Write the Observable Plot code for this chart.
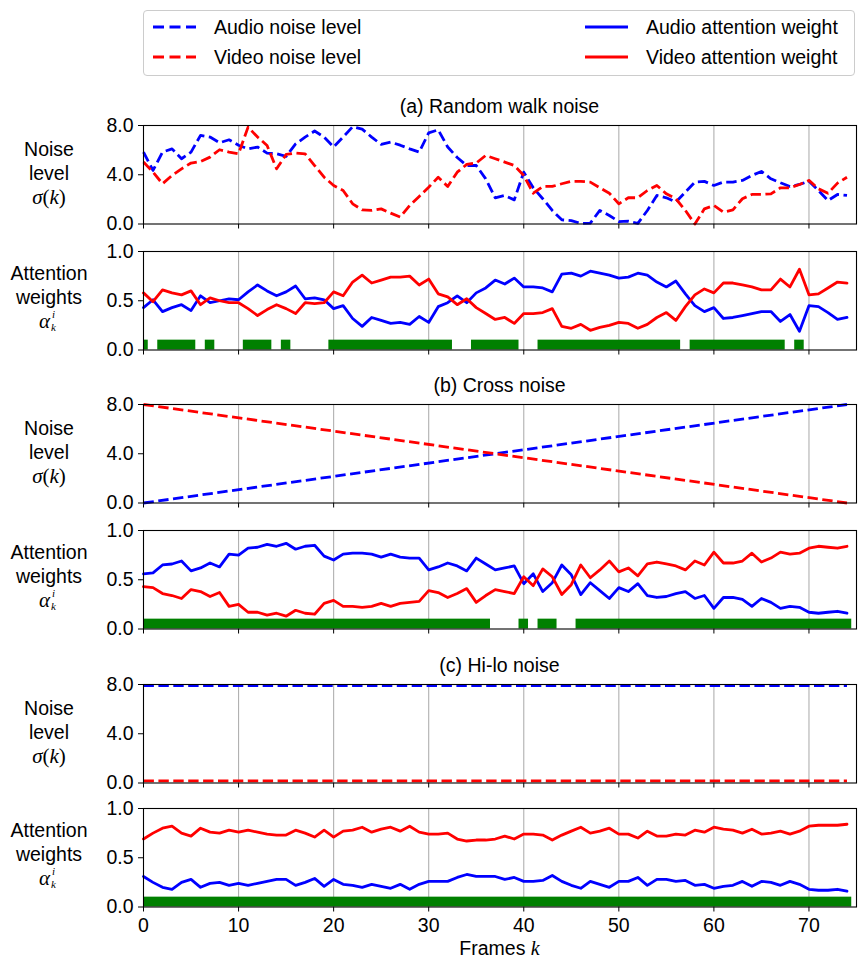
<!DOCTYPE html>
<html><head><meta charset="utf-8">
<script src="https://cdn.jsdelivr.net/npm/d3@7"></script>
<script src="https://cdn.jsdelivr.net/npm/@observablehq/plot@0.6"></script>
<style>
body{margin:0;background:#fff;}
#root{position:relative;width:858px;height:962px;font-family:"Liberation Sans",Arial,sans-serif;color:#000;font-size:19.5px;overflow:hidden;}
.abs{position:absolute;white-space:nowrap;}
.m{font-family:"Liberation Serif","DejaVu Serif",serif;font-style:italic;}
.mu{font-family:"Liberation Serif","DejaVu Serif",serif;font-style:normal;}
.ylab{position:absolute;left:0;width:98px;text-align:center;line-height:24px;}
.ylab > div{height:24px;}
.title{position:absolute;left:143px;width:713px;text-align:center;line-height:24px;}
</style></head><body><div id="root"></div>
<script>
// ---------- data ----------
const frames = d3.range(0, 75);
const xTicks = [0, 10, 20, 30, 40, 50, 60, 70];
const noiseTicks = [0, 4, 8];
const attTicks = [0, 0.5, 1];
const titles = ["(a) Random walk noise", "(b) Cross noise", "(c) Hi-lo noise"];
const legendLabels = ["Audio noise level", "Video noise level", "Audio attention weight", "Video attention weight"];

// (a) random walk noise
const rwAudioNoise = [5.84,4.35,5.84,6.1,5.3,5.84,7.2,7.06,6.6,6.84, 6.4,6.1,6.25,5.76,5.7,5.5,6.5,7.06,7.55,7.06, 6.25,7.06,7.9,7.7,7.06,6.46,6.65,6.4,6.1,5.84, 7.4,7.65,6.25,5.4,4.75,4.75,3.67,2.13,2.32,1.96, 4.21,2.94,2.05,1.1,0.34,0.28,0.05,0.07,1.1,0.69, 0.2,0.23,0.05,1.1,2.32,2.13,1.78,2.59,3.4,3.46, 3.13,3.4,3.4,3.54,3.94,4.27,3.67,3.35,3.05,3.21, 3.48,2.72,1.91,2.4,2.32];
const rwVideoNoise = [5.03,4.21,3.27,3.94,4.48,4.95,5.08,5.43,6.03,5.84, 5.7,7.87,7.06,6.38,4.48,5.65,5.76,5.7,4.75,3.8, 3.13,2.72,1.64,1.15,1.1,1.23,0.88,0.56,1.5,2.24, 2.99,3.8,3.05,4.21,4.84,4.95,5.57,5.3,5.03,4.75, 3.94,2.5,3.05,3.05,3.27,3.46,3.46,3.4,2.94,2.5, 1.64,2.13,2.13,2.72,3.13,2.45,2.05,1.1,0.0,1.23, 1.5,0.96,1.15,2.05,2.4,2.4,2.45,2.94,2.94,3.21, 3.54,2.86,2.5,3.32,3.8];
const rwAudioAtt = [0.43,0.51,0.39,0.43,0.46,0.40,0.55,0.48,0.50,0.52, 0.51,0.59,0.66,0.60,0.55,0.59,0.65,0.52,0.53,0.51, 0.42,0.45,0.32,0.24,0.33,0.30,0.27,0.28,0.26,0.34, 0.28,0.44,0.48,0.55,0.48,0.58,0.63,0.71,0.67,0.73, 0.64,0.64,0.63,0.59,0.77,0.78,0.75,0.80,0.78,0.76, 0.73,0.74,0.78,0.76,0.69,0.64,0.70,0.57,0.45,0.39, 0.43,0.32,0.33,0.35,0.37,0.39,0.39,0.29,0.36,0.19, 0.45,0.44,0.38,0.31,0.33];
const rwVideoAtt = [0.58,0.49,0.61,0.58,0.56,0.60,0.46,0.53,0.50,0.48, 0.48,0.42,0.35,0.41,0.46,0.42,0.37,0.48,0.47,0.48, 0.59,0.55,0.69,0.76,0.68,0.71,0.74,0.74,0.75,0.66, 0.72,0.57,0.54,0.46,0.52,0.43,0.37,0.31,0.33,0.27, 0.37,0.37,0.38,0.42,0.24,0.22,0.26,0.20,0.23,0.25, 0.28,0.27,0.22,0.26,0.33,0.38,0.30,0.44,0.56,0.62, 0.58,0.68,0.68,0.66,0.64,0.61,0.61,0.72,0.64,0.82, 0.56,0.57,0.63,0.69,0.68];
const rwSelected = [[0,0],[2,5],[7,7],[11,13],[15,15],[20,32],[35,39],[42,56],[58,67],[69,69]];

// (b) cross noise
const crossNoiseFrames = [0, 74];
const crossAudioNoise = [0, 8];
const crossVideoNoise = [8, 0];
const crossAudioAtt = [0.56,0.57,0.65,0.66,0.69,0.59,0.62,0.67,0.63,0.76, 0.75,0.82,0.83,0.86,0.84,0.87,0.81,0.84,0.85,0.74, 0.70,0.76,0.77,0.77,0.76,0.73,0.76,0.73,0.72,0.72, 0.60,0.63,0.67,0.64,0.59,0.72,0.66,0.60,0.62,0.64, 0.46,0.56,0.38,0.47,0.65,0.55,0.35,0.47,0.39,0.31, 0.42,0.38,0.46,0.34,0.32,0.33,0.36,0.38,0.31,0.34, 0.21,0.32,0.32,0.30,0.23,0.31,0.27,0.21,0.23,0.22, 0.17,0.16,0.17,0.18,0.16];
const crossVideoAtt = [0.43,0.42,0.36,0.34,0.31,0.40,0.38,0.33,0.37,0.23, 0.25,0.17,0.17,0.14,0.16,0.13,0.19,0.16,0.15,0.26, 0.29,0.23,0.23,0.22,0.23,0.26,0.23,0.26,0.27,0.28, 0.39,0.37,0.32,0.36,0.41,0.27,0.34,0.40,0.38,0.36, 0.53,0.44,0.61,0.53,0.35,0.45,0.65,0.52,0.60,0.69, 0.58,0.62,0.54,0.66,0.68,0.66,0.64,0.60,0.69,0.65, 0.78,0.67,0.67,0.69,0.77,0.68,0.72,0.78,0.76,0.77, 0.82,0.84,0.83,0.82,0.84];
const crossSelected = [[0,36],[40,40],[42,43],[46,74]];

// (c) hi-lo noise
const hiloNoiseFrames = [0, 74];
const hiloAudioNoise = [7.92, 7.92];
const hiloVideoNoise = [0.18, 0.18];
const hiloAudioAtt = [0.31,0.25,0.20,0.18,0.25,0.28,0.20,0.24,0.25,0.22, 0.24,0.22,0.24,0.26,0.28,0.28,0.22,0.25,0.29,0.21, 0.28,0.23,0.22,0.20,0.23,0.21,0.19,0.23,0.18,0.23, 0.26,0.26,0.26,0.30,0.33,0.31,0.31,0.31,0.28,0.30, 0.26,0.26,0.27,0.32,0.26,0.22,0.19,0.26,0.23,0.20, 0.26,0.26,0.30,0.22,0.28,0.28,0.26,0.27,0.22,0.23, 0.19,0.21,0.22,0.26,0.21,0.26,0.25,0.22,0.26,0.23, 0.18,0.17,0.17,0.18,0.16];
const hiloVideoAtt = [0.69,0.75,0.80,0.82,0.75,0.72,0.80,0.76,0.75,0.78, 0.76,0.78,0.76,0.74,0.73,0.73,0.78,0.75,0.71,0.78, 0.71,0.77,0.78,0.81,0.76,0.79,0.81,0.77,0.82,0.76, 0.74,0.74,0.75,0.69,0.67,0.68,0.68,0.69,0.72,0.69, 0.74,0.74,0.73,0.68,0.73,0.77,0.81,0.75,0.77,0.80, 0.74,0.74,0.70,0.77,0.72,0.72,0.74,0.73,0.78,0.76, 0.81,0.79,0.78,0.75,0.79,0.74,0.75,0.77,0.74,0.77, 0.82,0.83,0.83,0.83,0.84];
const hiloSelected = [[0,74]];

// ---------- styling ----------
const BLUE = "#0000ff", RED = "#ff0000", GREEN = "#008000", GRID = "#b0b0b0";
const LW = 2.8, DASH = "10.4 4.5";
const BAR_H = 0.1;
const X_DOMAIN = [0, 75];
const FONT = '"Liberation Sans", Arial, sans-serif';

const root = document.getElementById("root");

function toRows(xs, a, b) { return xs.map((k, i) => ({k, a: a[i], b: b[i]})); }

function panel({plotTop, yDomain, yTicks, marks, xLabels}) {
  const mt = 10, mb = xLabels ? 34 : 10, h = 98.5;
  const svg = Plot.plot({
    width: 858, height: h + mt + mb,
    marginLeft: 143, marginRight: 2, marginTop: mt, marginBottom: mb,
    style: {fontFamily: FONT, fontSize: "19.5px", background: "transparent", overflow: "visible", color: "black"},
    x: {domain: X_DOMAIN, ticks: xTicks, tickSize: 5, tickPadding: 6, label: null,
        tickFormat: xLabels ? d3.format("d") : () => ""},
    y: {domain: yDomain, ticks: yTicks, tickSize: 5, tickPadding: 5, label: null,
        tickFormat: d3.format(".1f")},
    marks: [
      Plot.ruleX(xTicks.slice(1), {stroke: GRID, strokeWidth: 1.1}),
      ...marks,
      Plot.frame({stroke: "black", strokeWidth: 1.1})
    ]
  });
  svg.style.position = "absolute";
  svg.style.left = "0px";
  svg.style.top = (plotTop - mt) + "px";
  root.appendChild(svg);
}

function noiseMarks(xs, audio, video) {
  const rows = toRows(xs, audio, video);
  return [
    Plot.line(rows, {x: "k", y: "a", stroke: BLUE, strokeWidth: LW, strokeDasharray: DASH, strokeLinecap: "butt"}),
    Plot.line(rows, {x: "k", y: "b", stroke: RED, strokeWidth: LW, strokeDasharray: DASH, strokeLinecap: "butt"})
  ];
}
function attMarks(audio, video, selected) {
  const rows = toRows(frames, audio, video);
  return [
    Plot.rect(selected, {x1: d => Math.max(X_DOMAIN[0], d[0] - 0.5), x2: d => Math.min(X_DOMAIN[1], d[1] + 0.5), y1: 0, y2: BAR_H, fill: GREEN}),
    Plot.line(rows, {x: "k", y: "a", stroke: BLUE, strokeWidth: LW}),
    Plot.line(rows, {x: "k", y: "b", stroke: RED, strokeWidth: LW})
  ];
}

const groups = [
  {noiseTop: 125, attTop: 251, nx: frames, na: rwAudioNoise, nv: rwVideoNoise, aa: rwAudioAtt, av: rwVideoAtt, sel: rwSelected},
  {noiseTop: 404.3, attTop: 529.5, nx: crossNoiseFrames, na: crossAudioNoise, nv: crossVideoNoise, aa: crossAudioAtt, av: crossVideoAtt, sel: crossSelected},
  {noiseTop: 683.5, attTop: 808.3, nx: hiloNoiseFrames, na: hiloAudioNoise, nv: hiloVideoNoise, aa: hiloAudioAtt, av: hiloVideoAtt, sel: hiloSelected}
];

groups.forEach((g, gi) => {
  panel({plotTop: g.noiseTop, yDomain: [0, 8], yTicks: noiseTicks, marks: noiseMarks(g.nx, g.na, g.nv), xLabels: false});
  panel({plotTop: g.attTop, yDomain: [0, 1], yTicks: attTicks, marks: attMarks(g.aa, g.av, g.sel), xLabels: gi === 2});

  const t = document.createElement("div");
  t.className = "title";
  t.style.top = (g.noiseTop - 31) + "px";
  t.textContent = titles[gi];
  root.appendChild(t);

  const nl = document.createElement("div");
  nl.className = "ylab";
  nl.style.top = (g.noiseTop + 49 - 37) + "px";
  nl.innerHTML = '<div>Noise</div><div>level</div><div><span class="m" style="font-size:21px">σ</span><span class="mu" style="font-size:21px">(</span><span class="m" style="font-size:21px">k</span><span class="mu" style="font-size:21px">)</span></div>';
  root.appendChild(nl);

  const al = document.createElement("div");
  al.className = "ylab";
  al.style.top = (g.attTop + 49 - 39) + "px";
  al.innerHTML = '<div>Attention</div><div>weights</div>' +
    '<div style="position:relative">' +
    '<span class="m" style="position:absolute;left:39px;top:0;font-size:21px;line-height:24px">α</span>' +
    '<span class="m" style="position:absolute;left:52px;top:-1px;font-size:11px;line-height:12px">i</span>' +
    '<span class="m" style="position:absolute;left:51px;top:12px;font-size:11px;line-height:12px">k</span>' +
    '</div>';
  root.appendChild(al);
});

// x axis title
const xt = document.createElement("div");
xt.className = "title";
xt.style.top = "936px";
xt.innerHTML = 'Frames <span class="m" style="font-size:20px">k</span>';
root.appendChild(xt);

// legend
const leg = document.createElement("div");
leg.className = "abs";
Object.assign(leg.style, {left: "143px", top: "10px", width: "710px", height: "64px", border: "1px solid #cccccc", borderRadius: "4px", background: "#fff"});
root.appendChild(leg);
const legendItems = [
  {label: legendLabels[0], color: BLUE, dash: true, x: 9, y: 16},
  {label: legendLabels[1], color: RED, dash: true, x: 9, y: 46},
  {label: legendLabels[2], color: BLUE, dash: false, x: 441, y: 16},
  {label: legendLabels[3], color: RED, dash: false, x: 441, y: 46}
];
legendItems.forEach(it => {
  const s = document.createElementNS("http://www.w3.org/2000/svg", "svg");
  s.setAttribute("width", 44); s.setAttribute("height", 6);
  s.style.position = "absolute"; s.style.left = it.x + "px"; s.style.top = (it.y - 3) + "px";
  const ln = document.createElementNS("http://www.w3.org/2000/svg", "line");
  ln.setAttribute("x1", 0); ln.setAttribute("x2", 43); ln.setAttribute("y1", 3); ln.setAttribute("y2", 3);
  ln.setAttribute("stroke", it.color); ln.setAttribute("stroke-width", LW);
  if (it.dash) ln.setAttribute("stroke-dasharray", "11 5.5");
  s.appendChild(ln);
  leg.appendChild(s);
  const tx = document.createElement("div");
  tx.className = "abs";
  tx.style.left = (it.x + 61) + "px";
  tx.style.top = (it.y - 12) + "px";
  tx.style.lineHeight = "24px";
  tx.textContent = it.label;
  leg.appendChild(tx);
});
</script></body></html>
